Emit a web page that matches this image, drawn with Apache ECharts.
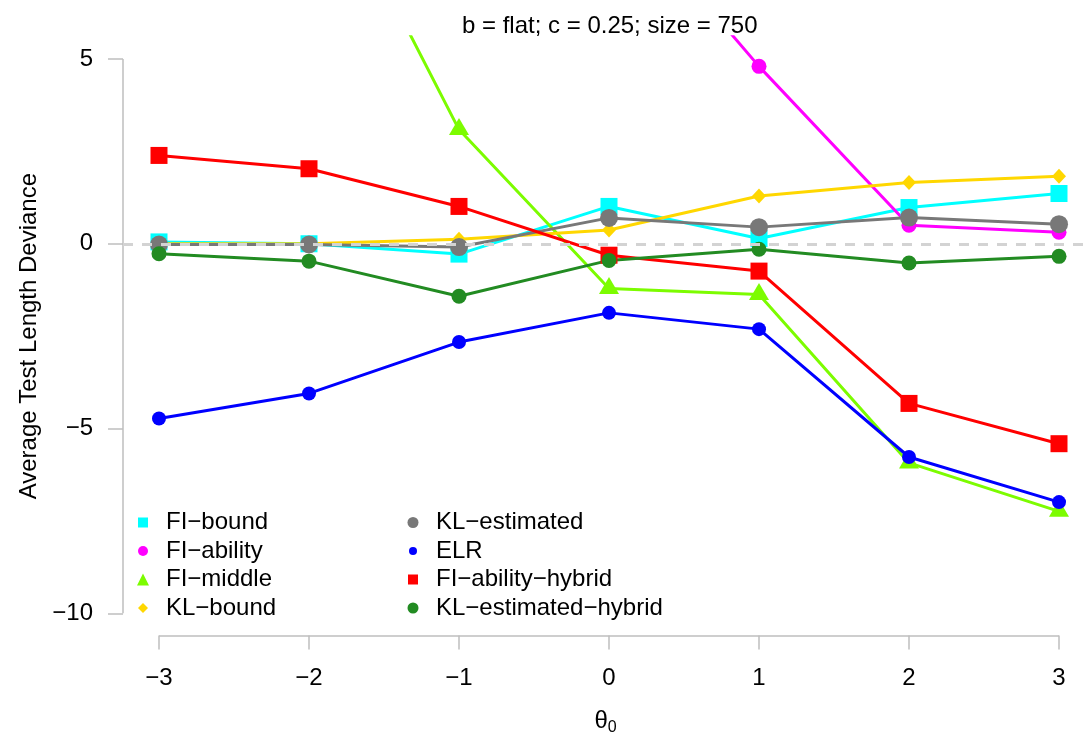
<!DOCTYPE html>
<html>
<head>
<meta charset="utf-8">
<script src="https://cdn.jsdelivr.net/npm/echarts@6/dist/echarts.min.js"></script>
<style>html,body{margin:0;padding:0;background:#fff}#c{width:1088px;height:744px}</style>
</head>
<body>
<div id="c"></div>
<script>
// ---- data ----
const titleText = 'b = flat; c = 0.25; size = 750';
const yAxisTitle = 'Average Test Length Deviance';
const thetaValues = [-3, -2, -1, 0, 1, 2, 3];
const xTicks = [-3, -2, -1, 0, 1, 2, 3];
const yTicks = [-10, -5, 0, 5];
const seriesNames = ['FI\u2212bound', 'FI\u2212ability', 'FI\u2212middle', 'KL\u2212bound',
  'KL\u2212estimated', 'ELR', 'FI\u2212ability\u2212hybrid', 'KL\u2212estimated\u2212hybrid'];
const fiBound = [0.05, 0.0, -0.28, 1.01, 0.14, 0.98, 1.36];
const fiAbility = [20.1, 18.3, 14.6, 9.54, 4.80, 0.50, 0.31];
const fiMiddle = [16.5, 10.98, 3.09, -1.21, -1.37, -5.93, -7.24];
const klBound = [0.0, 0.0, 0.12, 0.37, 1.29, 1.66, 1.83];
const klEstimated = [-0.02, -0.02, -0.09, 0.70, 0.45, 0.71, 0.53];
const elr = [-4.73, -4.05, -2.66, -1.87, -2.31, -5.77, -6.99];
const fiAbilityHybrid = [2.39, 2.03, 1.01, -0.31, -0.74, -4.32, -5.41];
const klEstimatedHybrid = [-0.27, -0.47, -1.42, -0.45, -0.15, -0.52, -0.34];

// ---- styles ----
const FONT = "'Liberation Sans', Arial, Helvetica, sans-serif";
const FS = 24;
const AXIS_GRAY = '#bebebe';
const X_MIN = -3.24, X_MAX = 3.1933, Y_MIN = -10.6, Y_MAX = 5.6;
const allValues = [fiBound, fiAbility, fiMiddle, klBound, klEstimated, elr, fiAbilityHybrid, klEstimatedHybrid];
const styles = [
  {color: '#00FFFF', symbol: 'rect', size: 17, legendSize: 10},
  {color: '#FF00FF', symbol: 'circle', size: 15, legendSize: 10},
  {color: '#7CFC00', symbol: 'triangle', size: [20, 17], offset: [0, -3], legendSize: 12},
  {color: '#FFD700', symbol: 'diamond', size: [14, 15], legendSize: 10},
  {color: '#787878', symbol: 'circle', size: 18, legendSize: 11},
  {color: '#0000FF', symbol: 'circle', size: 14, legendSize: 8},
  {color: '#FF0000', symbol: 'rect', size: 17, legendSize: 10},
  {color: '#228B22', symbol: 'circle', size: 15, legendSize: 11}
];
const legendCols = [143, 413];
const legendRows = [522.5, 551, 579.5, 608];
const legendTextOffset = 23;

const series = [];
// reference line and axis lines (drawn through the axes)
series.push({
  type: 'line', name: '_axes', data: [], clip: false, silent: true, z: 1,
  markLine: {
    silent: true, symbol: 'none', label: {show: false}, animation: false,
    data: [
      [{coord: [xTicks[0], Y_MIN], lineStyle: {color: AXIS_GRAY, width: 1.5, type: 'solid'}},
       {coord: [xTicks[xTicks.length - 1], Y_MIN]}],
      [{coord: [X_MIN, yTicks[0]], lineStyle: {color: AXIS_GRAY, width: 1.5, type: 'solid'}},
       {coord: [X_MIN, yTicks[yTicks.length - 1]]}],
      {yAxis: 0, lineStyle: {color: '#d3d3d3', width: 3, type: [10, 9]}}
    ]
  }
});
seriesNames.forEach((name, i) => {
  const st = styles[i];
  series.push({
    type: 'line', name: name, z: 2,
    data: thetaValues.map((x, j) => [x, allValues[i][j]]),
    clip: true,
    symbol: st.symbol, symbolSize: st.size, symbolOffset: st.offset || [0, 0],
    showAllSymbol: true,
    lineStyle: {color: st.color, width: 3},
    itemStyle: {color: st.color},
    emphasis: {disabled: true},
    animation: false
  });
});

const legends = seriesNames.map((name, i) => {
  const st = styles[i];
  const s = st.legendSize;
  const col = Math.floor(i / 4), row = i % 4;
  return {
    data: [{name: name, icon: st.symbol}],
    orient: 'vertical', selectedMode: false, padding: 0,
    left: legendCols[col] - s / 2, top: legendRows[row] - 12,
    itemWidth: s, itemHeight: s,
    itemStyle: {color: st.color, borderWidth: 0},
    textStyle: {fontFamily: FONT, fontSize: FS, color: '#000', lineHeight: 24,
      padding: [0, 0, 0, legendTextOffset - s / 2 - 5]}
  };
});

const chart = echarts.init(document.getElementById('c'));
chart.setOption({
  animation: false,
  backgroundColor: '#fff',
  title: {
    text: titleText, left: 457, top: 9,
    textStyle: {fontFamily: FONT, fontSize: FS, fontWeight: 'normal', color: '#000'}
  },
  legend: legends,
  grid: {left: 123, top: 36.8, right: 0, height: 598.7, containLabel: false},
  xAxis: {
    type: 'value', min: X_MIN, max: X_MAX,
    name: '{a|\u03B8}{b|0}', nameLocation: 'middle', nameGap: 72,
    nameTextStyle: {
      fontFamily: FONT, color: '#000',
      rich: {a: {fontFamily: FONT, fontSize: FS, color: '#000'},
             b: {fontFamily: FONT, fontSize: 16, color: '#000', padding: [12, 0, 0, 0]}}
    },
    axisLine: {show: false, onZero: false},
    splitLine: {show: false},
    axisTick: {show: true, customValues: xTicks, length: 14, lineStyle: {color: AXIS_GRAY, width: 1.5}},
    axisLabel: {customValues: xTicks, margin: 31, fontFamily: FONT, fontSize: FS, color: '#000',
      formatter: v => (v < 0 ? '\u2212' + Math.abs(v) : String(v))}
  },
  yAxis: {
    type: 'value', min: Y_MIN, max: Y_MAX,
    name: yAxisTitle, nameLocation: 'middle', nameGap: 79,
    nameTextStyle: {fontFamily: FONT, fontSize: FS, color: '#000'},
    axisLine: {show: false, onZero: false},
    splitLine: {show: false},
    axisTick: {show: true, customValues: yTicks, length: 15, lineStyle: {color: AXIS_GRAY, width: 1.5}},
    axisLabel: {customValues: yTicks, margin: 30, fontFamily: FONT, fontSize: FS, color: '#000',
      formatter: v => (v < 0 ? '\u2212' + Math.abs(v) : String(v))}
  },
  series: series
});
</script>
</body>
</html>
